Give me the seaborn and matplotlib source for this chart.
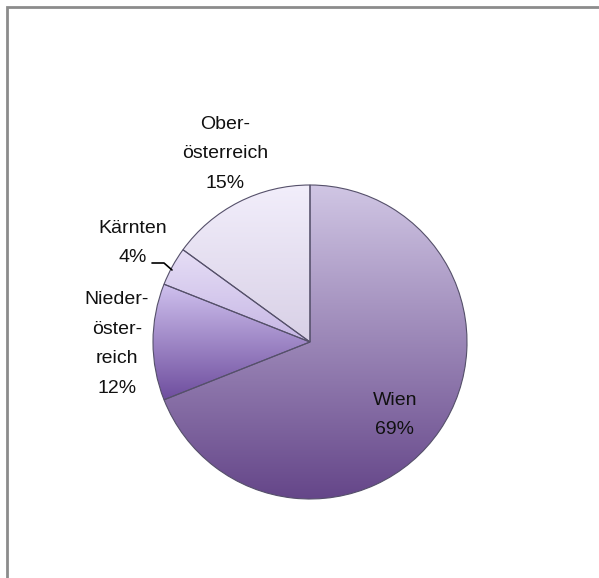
import matplotlib
matplotlib.use("Agg")
import matplotlib.pyplot as plt
import numpy as np
import seaborn as sns
from matplotlib.colors import LinearSegmentedColormap
from matplotlib.patches import Rectangle

sns.set_style("white")
plt.rcParams['font.family'] = ['Liberation Sans', 'DejaVu Sans']

# data
regions = ["Wien", "Nieder-\nöster-\nreich", "Kärnten", "Ober-\nösterreich"]
shares = [69, 12, 4, 15]
pct_labels = ["69%", "12%", "4%", "15%"]

# gradient colours per slice (top, bottom)
grad_top = ["#d0c6e4", "#cfc1ee", "#e6def6", "#f2eefb"]
grad_bot = ["#654689", "#6e4d9e", "#c6b6e4", "#d8d0e6"]

W, H = 599, 578
fig = plt.figure(figsize=(W / 100, H / 100), dpi=100)
ax = fig.add_axes([0, 0, 1, 1])

cx, cy, R = 310, H - 342, 157
wedges, _ = ax.pie(shares, startangle=90, counterclock=False,
                   center=(cx, cy), radius=R, frame=True,
                   colors=grad_bot,
                   wedgeprops=dict(edgecolor="#55506a", linewidth=0.8))

grad = np.linspace(0, 1, 256).reshape(-1, 1)
for w, ct, cb in zip(wedges, grad_top, grad_bot):
    ext = w.get_path().get_extents()
    cmap = LinearSegmentedColormap.from_list("g", [cb, ct])
    im = ax.imshow(grad, cmap=cmap, origin="lower", aspect="auto",
                   extent=(ext.x0, ext.x1, ext.y0, ext.y1), zorder=w.get_zorder() + 0.1)
    im.set_clip_path(w)
    w.set_facecolor("none")
    w.set_zorder(w.get_zorder() + 0.2)
ax.set_xlim(0, W)
ax.set_ylim(0, H)
ax.set_aspect("equal")
ax.axis("off")

# labels
fs = 14
def lab(x, y, s):
    ax.text(x, H - y, s, ha="center", va="center", fontsize=fs,
            linespacing=1.95, color="#111111")

lab(395, 415, regions[0] + "\n" + pct_labels[0])
lab(117, 344, regions[1] + "\n" + pct_labels[1])
lab(133, 243, regions[2] + "\n" + pct_labels[2])
lab(225, 154, regions[3] + "\n" + pct_labels[3])

# leader line for Kärnten
ax.plot([152, 164, 172], [H - 263, H - 263, H - 270], color="black", lw=1.2)

# chart border (right and bottom edges fall outside the image)
border = Rectangle((7 / W, -0.1), 1.2, (H - 7) / H + 0.1, transform=fig.transFigure,
                   fill=False, edgecolor="#8c8c8c", linewidth=2)
fig.patches.append(border)

fig.savefig("out.png", dpi=100, facecolor="white")
